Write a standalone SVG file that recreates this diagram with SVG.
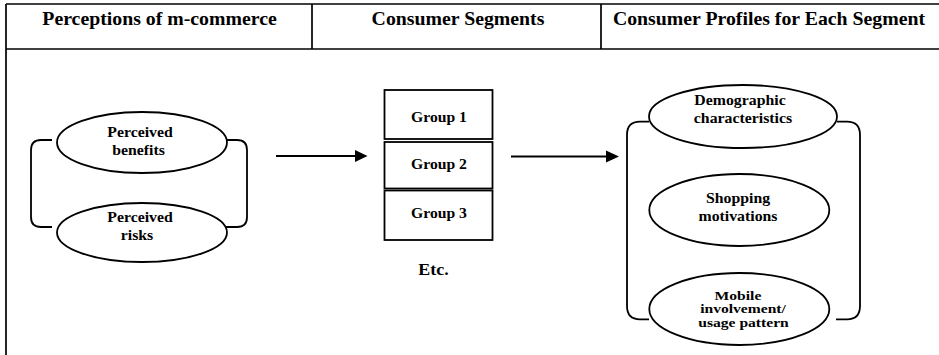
<svg xmlns="http://www.w3.org/2000/svg" width="939" height="355" viewBox="0 0 939 355">
<style>
.frame{stroke:#000;stroke-width:1.7;fill:none}
.shape{stroke:#000;stroke-width:1.8;fill:#fff}
.br{stroke:#000;stroke-width:1.8;fill:none}
.conn{stroke:#000;stroke-width:2.2;fill:none}
text{font-family:"Liberation Serif","Times New Roman",serif;font-weight:bold;text-anchor:middle;fill:#000}
.h{font-size:18px}
.t{font-size:14px}
.s{font-size:13px}
.e{font-size:16px}
</style>
<rect width="939" height="355" fill="#fff"/>
<g id="frame">
<line class="frame" x1="6" y1="4" x2="939" y2="4"/>
<line class="frame" x1="6" y1="49" x2="939" y2="49"/>
<line class="frame" x1="6" y1="4" x2="6" y2="355"/>
<line class="frame" x1="312" y1="4" x2="312" y2="49"/>
<line class="frame" x1="601" y1="4" x2="601" y2="49"/>
<text class="h" transform="translate(159.5,25) scale(1.1,1)">Perceptions of m-commerce</text>
<text class="h" transform="translate(458,25) scale(1.1,1)">Consumer Segments</text>
<text class="h" transform="translate(769,25) scale(1.1,1)">Consumer Profiles for Each Segment</text>
</g>
<g id="perceptions-bracket">
<path class="br" d="M52,140 H41 Q31,140 31,150 V217 Q31,227 41,227 H52"/>
<path class="br" d="M227,140 H237 Q247,140 247,150 V217 Q247,227 237,227 H225"/>
</g>
<g id="perceived-benefits">
<ellipse class="shape" cx="142" cy="142.5" rx="85" ry="30.5"/>
<text class="t" transform="translate(140,137) scale(1.13,1)">Perceived</text>
<text class="t" transform="translate(138.5,155) scale(1.13,1)">benefits</text>
</g>
<g id="perceived-risks">
<ellipse class="shape" cx="142" cy="232.5" rx="85" ry="29.5"/>
<text class="t" transform="translate(140,222) scale(1.13,1)">Perceived</text>
<text class="t" transform="translate(137,240) scale(1.13,1)">risks</text>
</g>
<g id="group-1">
<rect class="shape" x="384.5" y="90" width="108" height="49"/>
<text class="t" transform="translate(439,121.5) scale(1.12,1)">Group 1</text>
</g>
<g id="group-2">
<rect class="shape" x="384.5" y="142" width="108" height="46.5"/>
<text class="t" transform="translate(439,169) scale(1.12,1)">Group 2</text>
</g>
<g id="group-3">
<rect class="shape" x="384.5" y="190.5" width="108" height="49.5"/>
<text class="t" transform="translate(439,218) scale(1.12,1)">Group 3</text>
</g>
<g id="etc">
<text class="e" transform="translate(433.5,275) scale(1.12,1)">Etc.</text>
</g>
<g id="profiles-bracket">
<path class="br" d="M649,121.7 H640 Q627,121.7 627,135 V306 Q627,319.3 640,319.3 H649"/>
<path class="br" d="M837,121.7 H847 Q860,121.7 860,135 V306 Q860,319.3 847,319.3 H836"/>
</g>
<g id="demographic">
<ellipse class="shape" cx="743" cy="116.5" rx="94" ry="31.5"/>
<text class="t" transform="translate(740,105) scale(1.13,1)">Demographic</text>
<text class="t" transform="translate(743,122.7) scale(1.13,1)">characteristics</text>
</g>
<g id="shopping">
<ellipse class="shape" cx="739.3" cy="210" rx="90" ry="36"/>
<text class="t" transform="translate(738,203.3) scale(1.13,1)">Shopping</text>
<text class="t" transform="translate(738,221) scale(1.13,1)">motivations</text>
</g>
<g id="mobile">
<ellipse class="shape" cx="739.3" cy="309" rx="90" ry="36"/>
<text class="s" transform="translate(738,299.5) scale(1.2,1)">Mobile</text>
<text class="s" transform="translate(743,313) scale(1.2,1)">involvement/</text>
<text class="s" transform="translate(743.5,326.5) scale(1.2,1)">usage pattern</text>
</g>
<g id="connectors">
<line class="conn" x1="276" y1="156" x2="356" y2="156"/>
<polygon points="355,150 367.5,156 355,162" fill="#000"/>
<line class="conn" x1="511" y1="156.5" x2="607" y2="156.5"/>
<polygon points="606,150.5 619,156.5 606,162.5" fill="#000"/>
</g>
</svg>
